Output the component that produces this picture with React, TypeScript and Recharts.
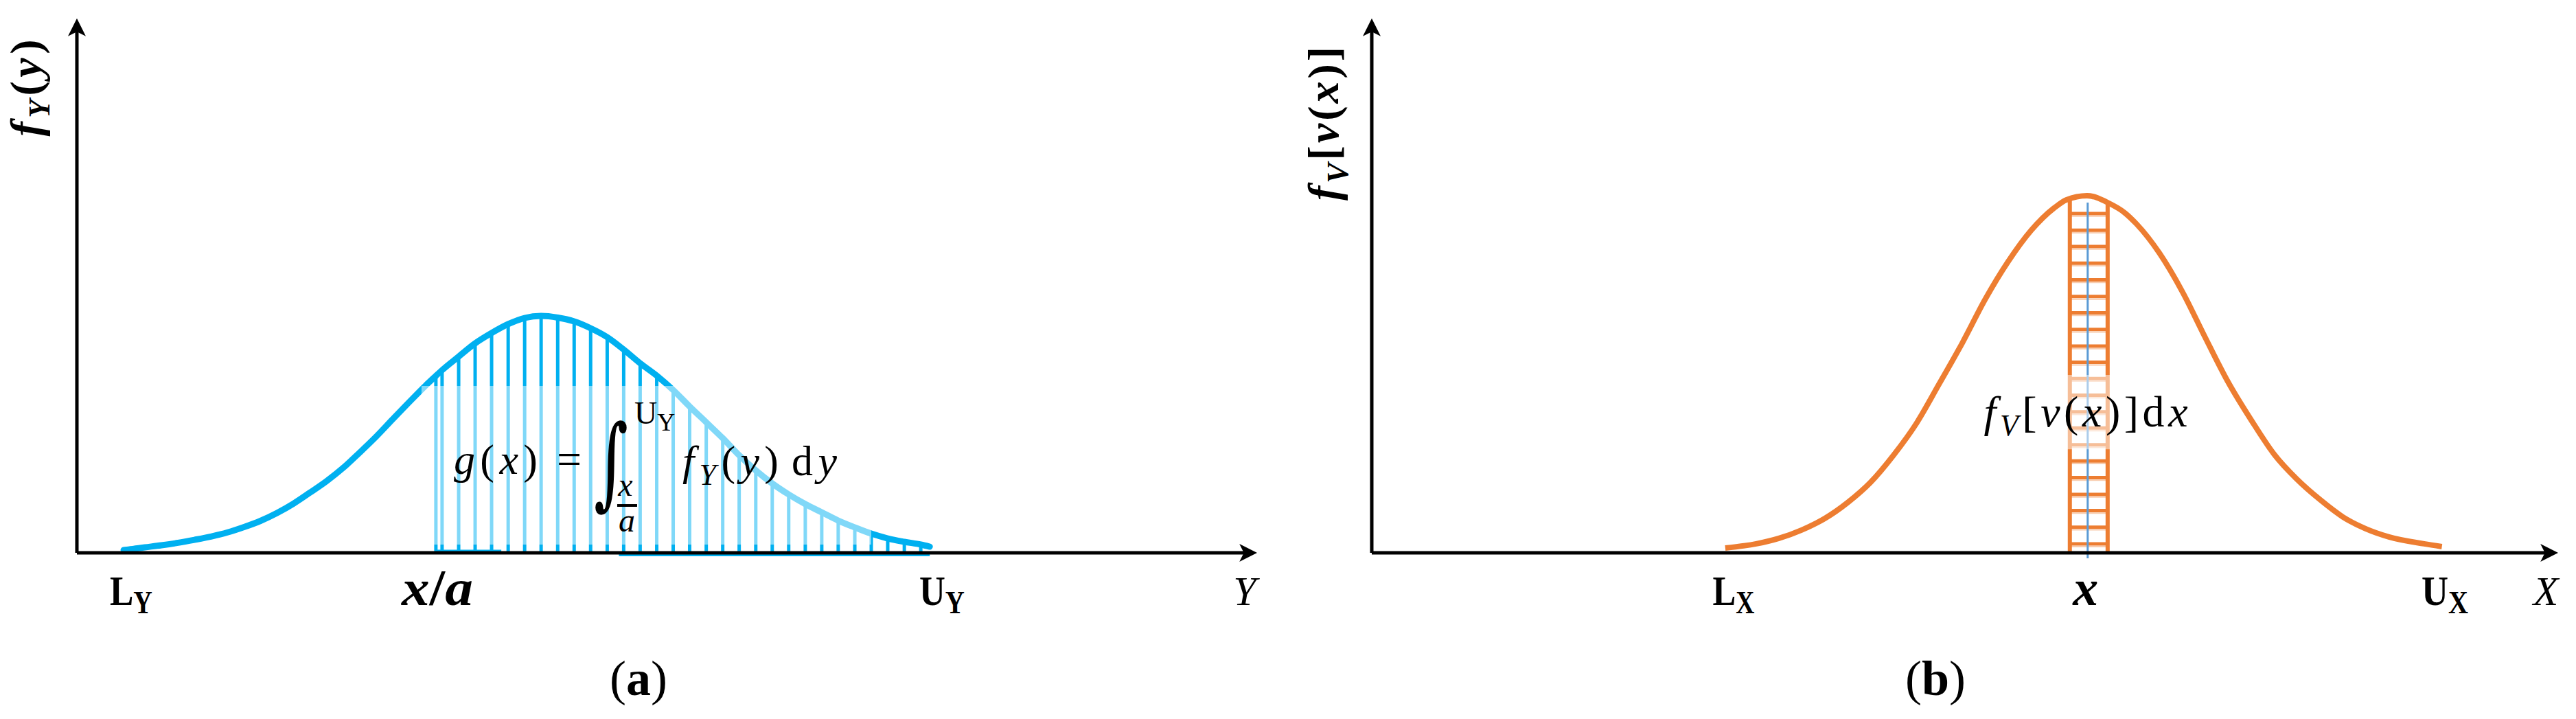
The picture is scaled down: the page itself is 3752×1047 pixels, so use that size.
import React from 'react';
import { ComposedChart, Line, XAxis, YAxis, ReferenceLine, ReferenceArea } from 'recharts';

// ---------- Panel (a): f_Y(y) ----------
const aX = [4.0, 4.42, 5.83, 7.24, 8.66, 10.07, 11.48, 12.9, 14.31, 15.72, 17.14, 18.55, 19.96, 21.38, 22.79, 24.2, 25.62, 27.03, 28.45, 29.86, 30.74, 31.27, 32.69, 34.1, 35.51, 36.93, 38.34, 39.75, 41.17, 42.58, 43.99, 45.41, 46.82, 48.23, 49.65, 51.06, 52.47, 53.89, 55.3, 56.71, 58.13, 59.54, 60.95, 62.37, 63.78, 65.19, 66.61, 68.02, 69.43, 70.85, 72.26, 73.03];
const aY = [0.53, 0.64, 1.05, 1.45, 1.92, 2.49, 3.12, 3.91, 4.93, 6.12, 7.63, 9.43, 11.54, 13.74, 16.26, 19.18, 22.25, 25.57, 28.87, 32.05, 33.9, 35.0, 37.6, 40.13, 42.11, 43.82, 45.0, 45.39, 45.07, 44.34, 43.03, 41.32, 38.95, 36.32, 33.95, 31.18, 28.03, 25.0, 21.97, 18.68, 15.79, 13.29, 11.18, 9.34, 7.76, 6.18, 4.87, 3.68, 2.76, 2.11, 1.58, 1.18];
const aShade = [30.74, 72.26];
const aBox = [29.51, 68.02, 1.59, 31.97];
const aBaseSegs = [[30.74, 36.34, 0.4], [46.41, 73.03, -0.46]];
const aTicks = [4.64, 30.86, 74.07, 100];
const aTickLabels = ['L_Y', 'x/a', 'U_Y', 'Y'];

// ---------- Panel (b): f_V[v(x)] ----------
const bX = [30.11, 32.75, 34.68, 36.61, 38.61, 40.54, 42.47, 44.46, 46.4, 48.33, 50.32, 52.26, 54.19, 56.18, 58.11, 59.17, 60.93, 62.8, 64.15, 65.14, 67.08, 69.07, 71.0, 72.93, 74.93, 76.86, 78.79, 80.78, 82.72, 84.65, 86.64, 89.63, 91.15];
const bY = [0.92, 1.72, 2.77, 4.36, 6.61, 9.64, 13.47, 18.76, 24.83, 32.36, 40.29, 48.61, 55.75, 61.82, 66.05, 67.64, 68.43, 66.97, 65.13, 63.01, 57.46, 49.93, 41.22, 32.76, 25.36, 18.89, 14.13, 10.17, 6.87, 4.62, 3.04, 1.72, 1.19];
const bRailX = [59.46, 62.68];
const bRailTop = [67.8, 67.1];
const bCenterX = 60.98;
const bCenterRange = [-1.06, 67.1];
const bRungY = [65.0, 61.8, 58.7, 55.5, 52.3, 49.1, 46.0, 42.8, 39.6, 36.5, 33.4, 30.2, 27.0, 23.9, 20.7, 17.6, 14.4, 11.2, 8.1, 4.9, 1.7];
const bBox = [51.67, 69.83, 19.82, 34.08];
const bTicks = [30.82, 60.8, 91.4, 100];
const bTickLabels = ['L_X', 'x', 'U_X', 'X'];

const FONT = "'Liberation Serif', 'Times New Roman', serif";
const BLUE = '#00B0F0';
const ORANGE = '#ED7D31';

const ArrowDefs = ({ id }: { id: string }) => (
  <defs>
    <marker id={id} viewBox="0 0 10 10" refX="3" refY="5" markerWidth="26" markerHeight="26" markerUnits="userSpaceOnUse" orient="auto-start-reverse">
      <path d="M0,0 L10,5 L0,10 L2.5,5 Z" fill="#000" />
    </marker>
  </defs>
);

const tickWidths: Record<string, number> = { L_Y: 62, U_Y: 66, L_X: 61, U_X: 68, 'x/a': 104 };

const renderTick = (ticks: number[], labels: string[]) => (props: any) => {
  const { x, y, payload } = props;
  const i = ticks.findIndex((t) => Math.abs(t - payload.value) < 1e-6);
  const lab = i >= 0 ? labels[i] : '';
  const base = y + 76;
  const w = tickWidths[lab];
  if (lab.includes('_')) {
    const [m, s] = lab.split('_');
    return (
      <text x={x} y={base} textAnchor="middle" fontFamily={FONT} fontSize={62} fontWeight="bold" fill="#000" textLength={w} lengthAdjust="spacingAndGlyphs">
        {m}
        <tspan fontSize={46} dy={12}>{s}</tspan>
      </text>
    );
  }
  if (lab.includes('/')) {
    const [p, q] = lab.split('/');
    return (
      <text x={x} y={base} textAnchor="middle" fontFamily={FONT} fontSize={74} fontWeight="bold" fill="#000" textLength={w} lengthAdjust="spacingAndGlyphs">
        <tspan fontStyle="italic">{p}</tspan>/<tspan fontStyle="italic">{q}</tspan>
      </text>
    );
  }
  if (lab === lab.toLowerCase()) {
    return (
      <text x={x} y={base} textAnchor="middle" fontFamily={FONT} fontSize={74} fontWeight="bold" fontStyle="italic" fill="#000">
        {lab}
      </text>
    );
  }
  return (
    <text x={x} y={base} textAnchor="middle" fontFamily={FONT} fontSize={60} fontStyle="italic" fill="#000">
      {lab}
    </text>
  );
};

const FormulaA = (props: any) => {
  const vb = props.viewBox || { x: 0, y: 0 };
  const ox = vb.x;
  const oy = vb.y;
  return (
    <g fontFamily={FONT} fill="#000">
      <text x={ox + 47} y={oy + 128} fontSize={62} textLength={122} lengthAdjust="spacing">
        <tspan fontStyle="italic">g</tspan>(<tspan fontStyle="italic">x</tspan>)
      </text>
      <text x={ox + 215} y={oy + 128} fontSize={64} textAnchor="middle">=</text>
      <text transform={`translate(${ox + 276},${oy + 110}) scale(0.8,1.22)`} x={0} y={42} fontSize={120} textAnchor="middle" fontFamily="'DejaVu Serif', serif">∫</text>
      <text x={ox + 297} y={oy + 160} fontSize={48} textAnchor="middle" fontStyle="italic">x</text>
      <line x1={ox + 285} x2={ox + 314} y1={oy + 174} y2={oy + 174} stroke="#000" strokeWidth={4} />
      <text x={ox + 299} y={oy + 212} fontSize={48} textAnchor="middle" fontStyle="italic">a</text>
      <text x={ox + 310} y={oy + 55} fontSize={46}>
        U<tspan fontSize={36} dy={10}>Y</tspan>
      </text>
      <text x={ox + 380} y={oy + 130} fontSize={62} textLength={140} lengthAdjust="spacing">
        <tspan fontStyle="italic">f</tspan>
        <tspan fontSize={44} dy={14} fontStyle="italic">Y</tspan>
        <tspan dy={-14}>(</tspan>
        <tspan fontStyle="italic">y</tspan>)
      </text>
      <text x={ox + 539} y={oy + 130} fontSize={62} textLength={66} lengthAdjust="spacing">
        d<tspan fontStyle="italic">y</tspan>
      </text>
    </g>
  );
};

const FormulaB = (props: any) => {
  const vb = props.viewBox || { x: 0, y: 0 };
  const ox = vb.x;
  const oy = vb.y;
  return (
    <text x={ox + 8} y={oy + 75} fontFamily={FONT} fontSize={64} fill="#000" textLength={297} lengthAdjust="spacing">
      <tspan fontStyle="italic">f</tspan>
      <tspan fontStyle="italic" fontSize={44} dy={13}>V</tspan>
      <tspan dy={-13}>[</tspan>
      <tspan fontStyle="italic">v</tspan>(<tspan fontStyle="italic">x</tspan>)]d<tspan fontStyle="italic">x</tspan>
    </text>
  );
};

const PanelA = () => {
  const data = aX.map((x, i) => ({ x, y: aY[i] }));
  const stripes = data.filter((d) => d.x >= aShade[0] && d.x <= aShade[1]);
  return (
    <ComposedChart width={1900} height={1047} data={data} margin={{ top: 45, right: 87, bottom: 142, left: 52 }}>
      <ArrowDefs id="arrowA" />
      <XAxis type="number" dataKey="x" domain={[0, 100]} ticks={aTicks} interval={0} allowDataOverflow
        tick={renderTick(aTicks, aTickLabels)} tickLine={false} tickSize={0} tickMargin={0} height={100}
        axisLine={{ stroke: '#000', strokeWidth: 5, markerEnd: 'url(#arrowA)' }} />
      <YAxis type="number" domain={[0, 100]} tick={false} tickLine={false} width={60} allowDataOverflow
        axisLine={{ stroke: '#000', strokeWidth: 5, markerStart: 'url(#arrowA)' }} />
      {stripes.map((d) => (
        <ReferenceLine key={'s' + d.x} segment={[{ x: d.x, y: 0 }, { x: d.x, y: d.y }]} stroke={BLUE} strokeWidth={5} ifOverflow="visible" zIndex={350} />
      ))}
      <Line type="monotone" dataKey="y" stroke={BLUE} strokeWidth={9} dot={false} activeDot={false} isAnimationActive={false} strokeLinecap="round" zIndex={400} />
      <ReferenceArea x1={aBox[0]} x2={aBox[1]} y1={aBox[2]} y2={aBox[3]} fill="#ffffff" fillOpacity={0.5} stroke="none" ifOverflow="visible" zIndex={450} label={<FormulaA />} />
      {aBaseSegs.map((s, i) => (
        <ReferenceLine key={'b' + i} segment={[{ x: s[0], y: s[2] }, { x: s[1], y: s[2] }]} stroke={BLUE} strokeWidth={3} ifOverflow="visible" zIndex={300} />
      ))}
      <text transform="translate(59,128) rotate(-90)" textAnchor="middle" fontFamily={FONT} fontSize={64} fontWeight="bold" fill="#000" textLength={141} lengthAdjust="spacing">
        <tspan fontStyle="italic">f</tspan>
        <tspan fontStyle="italic" fontSize={44} dy={13}>Y</tspan>
        <tspan dy={-13}>(</tspan>
        <tspan fontStyle="italic">y</tspan>)
      </text>
      <text x={930} y={1012} textAnchor="middle" fontFamily={FONT} fontSize={72} fill="#000">
        (<tspan fontWeight="bold">a</tspan>)
      </text>
    </ComposedChart>
  );
};

const PanelB = () => {
  const data = bX.map((x, i) => ({ x, y: bY[i] }));
  return (
    <ComposedChart width={1902} height={1047} data={data} margin={{ top: 45, right: 44, bottom: 142, left: 88 }}>
      <ArrowDefs id="arrowB" />
      <XAxis type="number" dataKey="x" domain={[0, 100]} ticks={bTicks} interval={0} allowDataOverflow
        tick={renderTick(bTicks, bTickLabels)} tickLine={false} tickSize={0} tickMargin={0} height={100}
        axisLine={{ stroke: '#000', strokeWidth: 5, markerEnd: 'url(#arrowB)' }} />
      <YAxis type="number" domain={[0, 100]} tick={false} tickLine={false} width={60} allowDataOverflow
        axisLine={{ stroke: '#000', strokeWidth: 5, markerStart: 'url(#arrowB)' }} />
      {bRungY.map((r) => (
        <ReferenceLine key={'r' + r} segment={[{ x: bRailX[0], y: r }, { x: bRailX[1], y: r }]} stroke={ORANGE} strokeWidth={5} ifOverflow="visible" zIndex={340} />
      ))}
      {bRungY.map((r) => (
        <ReferenceLine key={'rl' + r} segment={[{ x: bRailX[0], y: r - 0.5 }, { x: bRailX[1], y: r - 0.5 }]} stroke="#F8CBAD" strokeWidth={2} ifOverflow="visible" zIndex={340} />
      ))}
      {bRailX.map((rx, i) => (
        <ReferenceLine key={'rail' + i} segment={[{ x: rx, y: 0 }, { x: rx, y: bRailTop[i] }]} stroke={ORANGE} strokeWidth={6} ifOverflow="visible" zIndex={345} />
      ))}
      <ReferenceLine segment={[{ x: bCenterX, y: bCenterRange[0] }, { x: bCenterX, y: bCenterRange[1] }]} stroke="#5B9BD5" strokeWidth={3} ifOverflow="visible" zIndex={348} />
      <Line type="monotone" dataKey="y" stroke={ORANGE} strokeWidth={8} dot={false} activeDot={false} isAnimationActive={false} zIndex={400} />
      <ReferenceArea x1={bBox[0]} x2={bBox[1]} y1={bBox[2]} y2={bBox[3]} fill="#ffffff" fillOpacity={0.5} stroke="none" ifOverflow="visible" zIndex={450} label={<FormulaB />} />
      <text transform="translate(99,180) rotate(-90)" textAnchor="middle" fontFamily={FONT} fontSize={64} fontWeight="bold" fill="#000" textLength={224} lengthAdjust="spacing">
        <tspan fontStyle="italic">f</tspan>
        <tspan fontStyle="italic" fontSize={44} dy={14}>V</tspan>
        <tspan dy={-14}>[</tspan>
        <tspan fontStyle="italic">v</tspan>(<tspan fontStyle="italic">x</tspan>)]
      </text>
      <text x={969} y={1012} textAnchor="middle" fontFamily={FONT} fontSize={72} fill="#000">
        (<tspan fontWeight="bold">b</tspan>)
      </text>
    </ComposedChart>
  );
};

export default function App() {
  return (
    <div style={{ position: 'absolute', left: 0, top: 0, width: 3752, height: 1047, background: '#fff', overflow: 'hidden' }}>
      <div style={{ position: 'absolute', left: 0, top: 0 }}>
        <PanelA />
      </div>
      <div style={{ position: 'absolute', left: 1850, top: 0 }}>
        <PanelB />
      </div>
    </div>
  );
}
